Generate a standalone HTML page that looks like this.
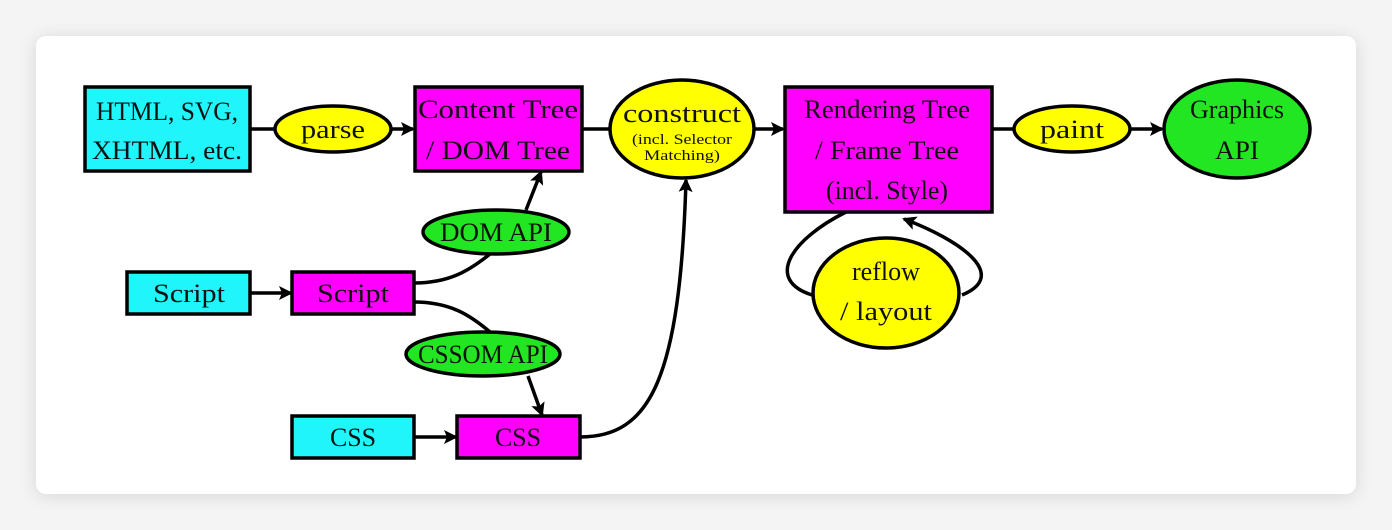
<!DOCTYPE html>
<html><head><meta charset="utf-8"><style>
html,body{margin:0;padding:0;background:#f4f4f4;width:1392px;height:530px;overflow:hidden}
.card{position:absolute;left:36px;top:36px;width:1320px;height:458px;background:#fff;border-radius:10px;box-shadow:0 2px 18px rgba(0,0,0,0.12)}
svg{position:absolute;left:0;top:0}
text{font-family:"Liberation Serif",serif;fill:#111;text-anchor:middle}
</style></head><body>
<div class="card"></div>
<svg width="1392" height="530" viewBox="0 0 1392 530">
<defs><marker id="a" markerWidth="14" markerHeight="14" refX="12" refY="7" orient="auto" markerUnits="userSpaceOnUse"><path d="M0,0 L14,7 L0,14 L3,7 Z" fill="#000"/></marker></defs>
<g stroke="#000" stroke-width="3.5" fill="none">
<line x1="250" y1="129" x2="275" y2="129"/>
<line x1="391" y1="129" x2="413" y2="129" marker-end="url(#a)"/>
<line x1="582" y1="129" x2="610" y2="129"/>
<line x1="754" y1="129" x2="783" y2="129" marker-end="url(#a)"/>
<line x1="992" y1="129" x2="1014" y2="129"/>
<line x1="1130" y1="129" x2="1162" y2="129" marker-end="url(#a)"/>
<path d="M526,210 L541,172" marker-end="url(#a)"/>
<path d="M414,283 C450,283 470,270 490,254"/>
<line x1="250" y1="293" x2="291" y2="293" marker-end="url(#a)"/>
<path d="M414,302 C450,302 470,315 490,332"/>
<path d="M528,376 L542,415" marker-end="url(#a)"/>
<line x1="414" y1="437" x2="456" y2="437" marker-end="url(#a)"/>
<path d="M580,437 C650,437 680,380 686,180" marker-end="url(#a)"/>
<path d="M846,212 C790,240 765,280 812,295"/>
<path d="M962,295 C1010,275 960,240 904,219" marker-end="url(#a)"/>
</g>
<g stroke="#000" stroke-width="3.5">
<rect x="85" y="87" width="165" height="84" fill="#1ff5fb"/>
<rect x="415" y="87" width="167" height="84" fill="#ff00ff"/>
<rect x="785" y="87" width="207" height="125" fill="#ff00ff"/>
<rect x="127" y="272" width="123" height="42" fill="#1ff5fb"/>
<rect x="292" y="272" width="122" height="42" fill="#ff00ff"/>
<rect x="292" y="416" width="122" height="42" fill="#1ff5fb"/>
<rect x="457" y="416" width="123" height="42" fill="#ff00ff"/>
<ellipse cx="333" cy="129" rx="58" ry="23" fill="#ffff00"/>
<ellipse cx="682" cy="129" rx="72" ry="49" fill="#ffff00"/>
<ellipse cx="1072" cy="129" rx="58" ry="23" fill="#ffff00"/>
<ellipse cx="1237" cy="129" rx="73" ry="49" fill="#22e622"/>
<ellipse cx="496" cy="232" rx="73" ry="22" fill="#22e622"/>
<ellipse cx="483" cy="354" rx="77" ry="22" fill="#22e622"/>
<ellipse cx="886" cy="293" rx="73" ry="55" fill="#ffff00"/>
</g>
<g font-size="26">
<text x="167" y="120" textLength="142" lengthAdjust="spacingAndGlyphs">HTML, SVG,</text>
<text x="167" y="159" textLength="150" lengthAdjust="spacingAndGlyphs">XHTML, etc.</text>
<text x="333" y="138" textLength="64" lengthAdjust="spacingAndGlyphs">parse</text>
<text x="498" y="118" textLength="160" lengthAdjust="spacingAndGlyphs">Content Tree</text>
<text x="498" y="159" textLength="144" lengthAdjust="spacingAndGlyphs">/ DOM Tree</text>
<text x="682" y="122" textLength="118" lengthAdjust="spacingAndGlyphs">construct</text>
<text x="887" y="118" textLength="166" lengthAdjust="spacingAndGlyphs">Rendering Tree</text>
<text x="887" y="159" textLength="144" lengthAdjust="spacingAndGlyphs">/ Frame Tree</text>
<text x="887" y="199" textLength="122" lengthAdjust="spacingAndGlyphs">(incl. Style)</text>
<text x="1072" y="138" textLength="64" lengthAdjust="spacingAndGlyphs">paint</text>
<text x="1237" y="118" textLength="94" lengthAdjust="spacingAndGlyphs">Graphics</text>
<text x="1237" y="159" textLength="44" lengthAdjust="spacingAndGlyphs">API</text>
<text x="496" y="241" textLength="112" lengthAdjust="spacingAndGlyphs">DOM API</text>
<text x="189" y="302" textLength="72" lengthAdjust="spacingAndGlyphs">Script</text>
<text x="353" y="302" textLength="72" lengthAdjust="spacingAndGlyphs">Script</text>
<text x="483" y="363" textLength="130" lengthAdjust="spacingAndGlyphs">CSSOM API</text>
<text x="353" y="446" textLength="46" lengthAdjust="spacingAndGlyphs">CSS</text>
<text x="518" y="446" textLength="46" lengthAdjust="spacingAndGlyphs">CSS</text>
<text x="886" y="280" textLength="68" lengthAdjust="spacingAndGlyphs">reflow</text>
<text x="886" y="320" textLength="92" lengthAdjust="spacingAndGlyphs">/ layout</text>
</g>
<g font-size="15">
<text x="682" y="144" textLength="100" lengthAdjust="spacingAndGlyphs">(incl. Selector</text>
<text x="682" y="160" textLength="76" lengthAdjust="spacingAndGlyphs">Matching)</text>
</g>
</svg>
</body></html>
